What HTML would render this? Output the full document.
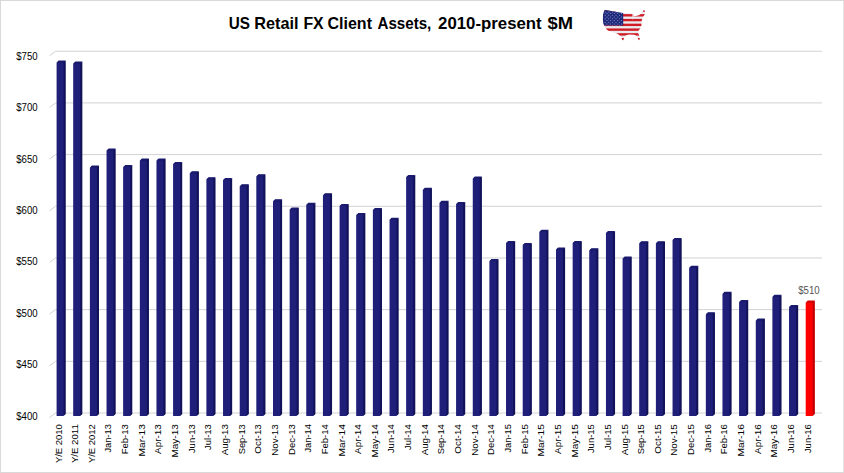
<!DOCTYPE html>
<html><head><meta charset="utf-8"><title>US Retail FX Client Assets</title>
<style>
html,body{margin:0;padding:0;background:#fff;}
body{width:844px;height:473px;overflow:hidden;}
svg{display:block;}
.g{fill:none;stroke:#d2d2d2;stroke-width:1;}
.yl{font-family:"Liberation Sans",Arial,sans-serif;font-size:11px;fill:#000;}
.xl{font-family:"Liberation Sans",Arial,sans-serif;font-size:9.4px;fill:#000;text-anchor:end;}
.tt{font-family:"Liberation Sans",Arial,sans-serif;font-size:16.3px;font-weight:bold;fill:#000;}
.dl{font-family:"Liberation Sans",Arial,sans-serif;font-size:10.8px;fill:#555;}
</style></head>
<body>
<svg width="844" height="473" viewBox="0 0 844 473">
<rect x="0" y="0" width="844" height="473" fill="#fff"/><path d="M0 0H844V1H0Z M0 0H1V473H0Z M0 472H844V473H0Z" fill="#d9d9d9"/><path d="M843 1H844V472H843Z" fill="#e6e6e6"/>
<text x="228.8" y="28.7" class="tt" textLength="21.2" lengthAdjust="spacingAndGlyphs">US</text><text x="254.3" y="28.7" class="tt" textLength="44.2" lengthAdjust="spacingAndGlyphs">Retail</text><text x="303.4" y="28.7" class="tt" textLength="20.3" lengthAdjust="spacingAndGlyphs">FX</text><text x="327.5" y="28.7" class="tt" textLength="44.5" lengthAdjust="spacingAndGlyphs">Client</text><text x="377.5" y="28.7" class="tt" textLength="53.8" lengthAdjust="spacingAndGlyphs">Assets,</text><text x="438.1" y="28.7" class="tt" textLength="103.6" lengthAdjust="spacingAndGlyphs">2010-present</text><text x="547.5" y="28.7" class="tt" textLength="25.5" lengthAdjust="spacingAndGlyphs">$M</text>

<defs><clipPath id="us"><path d="M605 10 L614 11.4 L623 12.9 L628 13.3 L632 13.4 L633 14.4 L633.6 16.4 L635 16.2 L637 15.8 L639 15.2 L641 13.8 L642.5 12 L643.3 10.6 L644.5 10.3 L645.1 11.8 L644.6 14.5 L643 17 L641.8 20 L641.5 23 L641.4 25.6 L640.5 28 L639.2 29.8 L638 31.5 L638.3 33.5 L639.3 35.8 L639.7 38.5 L639.2 40.4 L638.2 39.2 L637.2 36.8 L635.5 35.3 L634.2 34.8 L629.3 34.6 L626.5 35 L624.6 36.6 L623.8 38.5 L623.3 40.5 L622.3 40 L621.4 37.4 L619.5 35.3 L617.5 33.8 L616.5 33.3 L613.5 32.5 L610.8 31.7 L608.5 31 L606.5 29.2 L605.3 27.6 L604.3 25.6 L603.2 23 L602.9 19 L603 15.2 L603.6 12.5 L604.2 10.8 Z"/></clipPath></defs>
<g clip-path="url(#us)">
 <rect x="600" y="8" width="48" height="34" fill="#e9ebee"/>
 <g fill="#d11c25"><rect x="600" y="9.35" width="48" height="2.4"/><rect x="600" y="14.12" width="48" height="2.4"/><rect x="600" y="18.89" width="48" height="2.4"/><rect x="600" y="23.66" width="48" height="2.4"/><rect x="600" y="28.43" width="48" height="2.4"/><rect x="600" y="33.2" width="48" height="2.4"/><rect x="600" y="37.97" width="48" height="2.4"/></g>
 <path d="M600 8H623.2V25.6H600Z" fill="#1f2a7c"/>
 <g fill="#9ea6d2"><circle cx="605.2" cy="11.9" r="0.5"/><circle cx="608.8" cy="11.9" r="0.5"/><circle cx="612.4" cy="11.9" r="0.5"/><circle cx="616" cy="11.9" r="0.5"/><circle cx="619.6" cy="11.9" r="0.5"/><circle cx="607" cy="13.62" r="0.5"/><circle cx="610.6" cy="13.62" r="0.5"/><circle cx="614.2" cy="13.62" r="0.5"/><circle cx="617.8" cy="13.62" r="0.5"/><circle cx="621.4" cy="13.62" r="0.5"/><circle cx="605.2" cy="15.34" r="0.5"/><circle cx="608.8" cy="15.34" r="0.5"/><circle cx="612.4" cy="15.34" r="0.5"/><circle cx="616" cy="15.34" r="0.5"/><circle cx="619.6" cy="15.34" r="0.5"/><circle cx="607" cy="17.06" r="0.5"/><circle cx="610.6" cy="17.06" r="0.5"/><circle cx="614.2" cy="17.06" r="0.5"/><circle cx="617.8" cy="17.06" r="0.5"/><circle cx="621.4" cy="17.06" r="0.5"/><circle cx="605.2" cy="18.78" r="0.5"/><circle cx="608.8" cy="18.78" r="0.5"/><circle cx="612.4" cy="18.78" r="0.5"/><circle cx="616" cy="18.78" r="0.5"/><circle cx="619.6" cy="18.78" r="0.5"/><circle cx="607" cy="20.5" r="0.5"/><circle cx="610.6" cy="20.5" r="0.5"/><circle cx="614.2" cy="20.5" r="0.5"/><circle cx="617.8" cy="20.5" r="0.5"/><circle cx="621.4" cy="20.5" r="0.5"/><circle cx="605.2" cy="22.22" r="0.5"/><circle cx="608.8" cy="22.22" r="0.5"/><circle cx="612.4" cy="22.22" r="0.5"/><circle cx="616" cy="22.22" r="0.5"/><circle cx="619.6" cy="22.22" r="0.5"/><circle cx="607" cy="23.94" r="0.5"/><circle cx="610.6" cy="23.94" r="0.5"/><circle cx="614.2" cy="23.94" r="0.5"/><circle cx="617.8" cy="23.94" r="0.5"/><circle cx="621.4" cy="23.94" r="0.5"/><circle cx="605.2" cy="25.66" r="0.5"/><circle cx="608.8" cy="25.66" r="0.5"/><circle cx="612.4" cy="25.66" r="0.5"/><circle cx="616" cy="25.66" r="0.5"/><circle cx="619.6" cy="25.66" r="0.5"/></g>
 <path d="M632.2 14.2L632.9 20.6L633.5 14.4Z" fill="#eef0f2"/>
</g>

<path d="M49.5 417.5L55.5 413H822" class="g"/><path d="M49.5 365.82L55.5 361.32H822" class="g"/><path d="M49.5 314.14L55.5 309.64H822" class="g"/><path d="M49.5 262.46L55.5 257.96H822" class="g"/><path d="M49.5 210.78L55.5 206.28H822" class="g"/><path d="M49.5 159.1L55.5 154.6H822" class="g"/><path d="M49.5 107.42L55.5 102.92H822" class="g"/><path d="M49.5 55.74L55.5 51.24H822" class="g"/>
<text x="16.2" y="419.75" class="yl" textLength="21.4" lengthAdjust="spacingAndGlyphs">$400</text><text x="16.2" y="368.3" class="yl" textLength="21.4" lengthAdjust="spacingAndGlyphs">$450</text><text x="16.2" y="316.85" class="yl" textLength="21.4" lengthAdjust="spacingAndGlyphs">$500</text><text x="16.2" y="265.4" class="yl" textLength="21.4" lengthAdjust="spacingAndGlyphs">$550</text><text x="16.2" y="213.95" class="yl" textLength="21.4" lengthAdjust="spacingAndGlyphs">$600</text><text x="16.2" y="162.5" class="yl" textLength="21.4" lengthAdjust="spacingAndGlyphs">$650</text><text x="16.2" y="111.05" class="yl" textLength="21.4" lengthAdjust="spacingAndGlyphs">$700</text><text x="16.2" y="59.6" class="yl" textLength="21.4" lengthAdjust="spacingAndGlyphs">$750</text>
<path d="M57.1 62.6L58.7 61H65.2V413.9L63.6 415.5H57.1Z" fill="#12125a"/><path d="M63.6 62.6L65.7 60.5V413.9L63.6 416Z" fill="#12125a"/><path d="M56.6 62.6H63.6V416H56.6Z" fill="#1f1f7a"/><path d="M56.6 62.6L58.7 60.5H65.7L63.6 62.6Z" fill="#1a1a6e"/><path d="M73.75 63.6L75.35 62H81.85V413.9L80.25 415.5H73.75Z" fill="#12125a"/><path d="M80.25 63.6L82.35 61.5V413.9L80.25 416Z" fill="#12125a"/><path d="M73.25 63.6H80.25V416H73.25Z" fill="#1f1f7a"/><path d="M73.25 63.6L75.35 61.5H82.35L80.25 63.6Z" fill="#1a1a6e"/><path d="M90.39 167.6L91.99 166H98.49V413.9L96.89 415.5H90.39Z" fill="#12125a"/><path d="M96.89 167.6L98.99 165.5V413.9L96.89 416Z" fill="#12125a"/><path d="M89.89 167.6H96.89V416H89.89Z" fill="#1f1f7a"/><path d="M89.89 167.6L91.99 165.5H98.99L96.89 167.6Z" fill="#1a1a6e"/><path d="M107.04 150.6L108.64 149H115.14V413.9L113.54 415.5H107.04Z" fill="#12125a"/><path d="M113.54 150.6L115.64 148.5V413.9L113.54 416Z" fill="#12125a"/><path d="M106.54 150.6H113.54V416H106.54Z" fill="#1f1f7a"/><path d="M106.54 150.6L108.64 148.5H115.64L113.54 150.6Z" fill="#1a1a6e"/><path d="M123.69 167.1L125.29 165.5H131.79V413.9L130.19 415.5H123.69Z" fill="#12125a"/><path d="M130.19 167.1L132.29 165V413.9L130.19 416Z" fill="#12125a"/><path d="M123.19 167.1H130.19V416H123.19Z" fill="#1f1f7a"/><path d="M123.19 167.1L125.29 165H132.29L130.19 167.1Z" fill="#1a1a6e"/><path d="M140.33 160.6L141.93 159H148.43V413.9L146.83 415.5H140.33Z" fill="#12125a"/><path d="M146.83 160.6L148.93 158.5V413.9L146.83 416Z" fill="#12125a"/><path d="M139.83 160.6H146.83V416H139.83Z" fill="#1f1f7a"/><path d="M139.83 160.6L141.93 158.5H148.93L146.83 160.6Z" fill="#1a1a6e"/><path d="M156.98 160.6L158.58 159H165.08V413.9L163.48 415.5H156.98Z" fill="#12125a"/><path d="M163.48 160.6L165.58 158.5V413.9L163.48 416Z" fill="#12125a"/><path d="M156.48 160.6H163.48V416H156.48Z" fill="#1f1f7a"/><path d="M156.48 160.6L158.58 158.5H165.58L163.48 160.6Z" fill="#1a1a6e"/><path d="M173.63 164.1L175.23 162.5H181.73V413.9L180.13 415.5H173.63Z" fill="#12125a"/><path d="M180.13 164.1L182.23 162V413.9L180.13 416Z" fill="#12125a"/><path d="M173.13 164.1H180.13V416H173.13Z" fill="#1f1f7a"/><path d="M173.13 164.1L175.23 162H182.23L180.13 164.1Z" fill="#1a1a6e"/><path d="M190.28 173.35L191.88 171.75H198.38V413.9L196.78 415.5H190.28Z" fill="#12125a"/><path d="M196.78 173.35L198.88 171.25V413.9L196.78 416Z" fill="#12125a"/><path d="M189.78 173.35H196.78V416H189.78Z" fill="#1f1f7a"/><path d="M189.78 173.35L191.88 171.25H198.88L196.78 173.35Z" fill="#1a1a6e"/><path d="M206.92 179.35L208.52 177.75H215.02V413.9L213.42 415.5H206.92Z" fill="#12125a"/><path d="M213.42 179.35L215.52 177.25V413.9L213.42 416Z" fill="#12125a"/><path d="M206.42 179.35H213.42V416H206.42Z" fill="#1f1f7a"/><path d="M206.42 179.35L208.52 177.25H215.52L213.42 179.35Z" fill="#1a1a6e"/><path d="M223.57 180.1L225.17 178.5H231.67V413.9L230.07 415.5H223.57Z" fill="#12125a"/><path d="M230.07 180.1L232.17 178V413.9L230.07 416Z" fill="#12125a"/><path d="M223.07 180.1H230.07V416H223.07Z" fill="#1f1f7a"/><path d="M223.07 180.1L225.17 178H232.17L230.07 180.1Z" fill="#1a1a6e"/><path d="M240.22 186.35L241.82 184.75H248.32V413.9L246.72 415.5H240.22Z" fill="#12125a"/><path d="M246.72 186.35L248.82 184.25V413.9L246.72 416Z" fill="#12125a"/><path d="M239.72 186.35H246.72V416H239.72Z" fill="#1f1f7a"/><path d="M239.72 186.35L241.82 184.25H248.82L246.72 186.35Z" fill="#1a1a6e"/><path d="M256.86 176.35L258.46 174.75H264.96V413.9L263.36 415.5H256.86Z" fill="#12125a"/><path d="M263.36 176.35L265.46 174.25V413.9L263.36 416Z" fill="#12125a"/><path d="M256.36 176.35H263.36V416H256.36Z" fill="#1f1f7a"/><path d="M256.36 176.35L258.46 174.25H265.46L263.36 176.35Z" fill="#1a1a6e"/><path d="M273.51 201.35L275.11 199.75H281.61V413.9L280.01 415.5H273.51Z" fill="#12125a"/><path d="M280.01 201.35L282.11 199.25V413.9L280.01 416Z" fill="#12125a"/><path d="M273.01 201.35H280.01V416H273.01Z" fill="#1f1f7a"/><path d="M273.01 201.35L275.11 199.25H282.11L280.01 201.35Z" fill="#1a1a6e"/><path d="M290.16 209.6L291.76 208H298.26V413.9L296.66 415.5H290.16Z" fill="#12125a"/><path d="M296.66 209.6L298.76 207.5V413.9L296.66 416Z" fill="#12125a"/><path d="M289.66 209.6H296.66V416H289.66Z" fill="#1f1f7a"/><path d="M289.66 209.6L291.76 207.5H298.76L296.66 209.6Z" fill="#1a1a6e"/><path d="M306.81 204.85L308.41 203.25H314.91V413.9L313.31 415.5H306.81Z" fill="#12125a"/><path d="M313.31 204.85L315.41 202.75V413.9L313.31 416Z" fill="#12125a"/><path d="M306.31 204.85H313.31V416H306.31Z" fill="#1f1f7a"/><path d="M306.31 204.85L308.41 202.75H315.41L313.31 204.85Z" fill="#1a1a6e"/><path d="M323.45 195.35L325.05 193.75H331.55V413.9L329.95 415.5H323.45Z" fill="#12125a"/><path d="M329.95 195.35L332.05 193.25V413.9L329.95 416Z" fill="#12125a"/><path d="M322.95 195.35H329.95V416H322.95Z" fill="#1f1f7a"/><path d="M322.95 195.35L325.05 193.25H332.05L329.95 195.35Z" fill="#1a1a6e"/><path d="M340.1 206.1L341.7 204.5H348.2V413.9L346.6 415.5H340.1Z" fill="#12125a"/><path d="M346.6 206.1L348.7 204V413.9L346.6 416Z" fill="#12125a"/><path d="M339.6 206.1H346.6V416H339.6Z" fill="#1f1f7a"/><path d="M339.6 206.1L341.7 204H348.7L346.6 206.1Z" fill="#1a1a6e"/><path d="M356.75 215.1L358.35 213.5H364.85V413.9L363.25 415.5H356.75Z" fill="#12125a"/><path d="M363.25 215.1L365.35 213V413.9L363.25 416Z" fill="#12125a"/><path d="M356.25 215.1H363.25V416H356.25Z" fill="#1f1f7a"/><path d="M356.25 215.1L358.35 213H365.35L363.25 215.1Z" fill="#1a1a6e"/><path d="M373.39 210.1L374.99 208.5H381.49V413.9L379.89 415.5H373.39Z" fill="#12125a"/><path d="M379.89 210.1L381.99 208V413.9L379.89 416Z" fill="#12125a"/><path d="M372.89 210.1H379.89V416H372.89Z" fill="#1f1f7a"/><path d="M372.89 210.1L374.99 208H381.99L379.89 210.1Z" fill="#1a1a6e"/><path d="M390.04 219.85L391.64 218.25H398.14V413.9L396.54 415.5H390.04Z" fill="#12125a"/><path d="M396.54 219.85L398.64 217.75V413.9L396.54 416Z" fill="#12125a"/><path d="M389.54 219.85H396.54V416H389.54Z" fill="#1f1f7a"/><path d="M389.54 219.85L391.64 217.75H398.64L396.54 219.85Z" fill="#1a1a6e"/><path d="M406.69 177.1L408.29 175.5H414.79V413.9L413.19 415.5H406.69Z" fill="#12125a"/><path d="M413.19 177.1L415.29 175V413.9L413.19 416Z" fill="#12125a"/><path d="M406.19 177.1H413.19V416H406.19Z" fill="#1f1f7a"/><path d="M406.19 177.1L408.29 175H415.29L413.19 177.1Z" fill="#1a1a6e"/><path d="M423.33 189.85L424.93 188.25H431.43V413.9L429.83 415.5H423.33Z" fill="#12125a"/><path d="M429.83 189.85L431.93 187.75V413.9L429.83 416Z" fill="#12125a"/><path d="M422.83 189.85H429.83V416H422.83Z" fill="#1f1f7a"/><path d="M422.83 189.85L424.93 187.75H431.93L429.83 189.85Z" fill="#1a1a6e"/><path d="M439.98 202.85L441.58 201.25H448.08V413.9L446.48 415.5H439.98Z" fill="#12125a"/><path d="M446.48 202.85L448.58 200.75V413.9L446.48 416Z" fill="#12125a"/><path d="M439.48 202.85H446.48V416H439.48Z" fill="#1f1f7a"/><path d="M439.48 202.85L441.58 200.75H448.58L446.48 202.85Z" fill="#1a1a6e"/><path d="M456.63 204.1L458.23 202.5H464.73V413.9L463.13 415.5H456.63Z" fill="#12125a"/><path d="M463.13 204.1L465.23 202V413.9L463.13 416Z" fill="#12125a"/><path d="M456.13 204.1H463.13V416H456.13Z" fill="#1f1f7a"/><path d="M456.13 204.1L458.23 202H465.23L463.13 204.1Z" fill="#1a1a6e"/><path d="M473.27 178.6L474.88 177H481.38V413.9L479.77 415.5H473.27Z" fill="#12125a"/><path d="M479.77 178.6L481.88 176.5V413.9L479.77 416Z" fill="#12125a"/><path d="M472.77 178.6H479.77V416H472.77Z" fill="#1f1f7a"/><path d="M472.77 178.6L474.88 176.5H481.88L479.77 178.6Z" fill="#1a1a6e"/><path d="M489.92 261.1L491.52 259.5H498.02V413.9L496.42 415.5H489.92Z" fill="#12125a"/><path d="M496.42 261.1L498.52 259V413.9L496.42 416Z" fill="#12125a"/><path d="M489.42 261.1H496.42V416H489.42Z" fill="#1f1f7a"/><path d="M489.42 261.1L491.52 259H498.52L496.42 261.1Z" fill="#1a1a6e"/><path d="M506.57 243.1L508.17 241.5H514.67V413.9L513.07 415.5H506.57Z" fill="#12125a"/><path d="M513.07 243.1L515.17 241V413.9L513.07 416Z" fill="#12125a"/><path d="M506.07 243.1H513.07V416H506.07Z" fill="#1f1f7a"/><path d="M506.07 243.1L508.17 241H515.17L513.07 243.1Z" fill="#1a1a6e"/><path d="M523.22 245.1L524.82 243.5H531.32V413.9L529.72 415.5H523.22Z" fill="#12125a"/><path d="M529.72 245.1L531.82 243V413.9L529.72 416Z" fill="#12125a"/><path d="M522.72 245.1H529.72V416H522.72Z" fill="#1f1f7a"/><path d="M522.72 245.1L524.82 243H531.82L529.72 245.1Z" fill="#1a1a6e"/><path d="M539.86 231.85L541.46 230.25H547.96V413.9L546.36 415.5H539.86Z" fill="#12125a"/><path d="M546.36 231.85L548.46 229.75V413.9L546.36 416Z" fill="#12125a"/><path d="M539.36 231.85H546.36V416H539.36Z" fill="#1f1f7a"/><path d="M539.36 231.85L541.46 229.75H548.46L546.36 231.85Z" fill="#1a1a6e"/><path d="M556.51 249.6L558.11 248H564.61V413.9L563.01 415.5H556.51Z" fill="#12125a"/><path d="M563.01 249.6L565.11 247.5V413.9L563.01 416Z" fill="#12125a"/><path d="M556.01 249.6H563.01V416H556.01Z" fill="#1f1f7a"/><path d="M556.01 249.6L558.11 247.5H565.11L563.01 249.6Z" fill="#1a1a6e"/><path d="M573.16 243.1L574.76 241.5H581.26V413.9L579.66 415.5H573.16Z" fill="#12125a"/><path d="M579.66 243.1L581.76 241V413.9L579.66 416Z" fill="#12125a"/><path d="M572.66 243.1H579.66V416H572.66Z" fill="#1f1f7a"/><path d="M572.66 243.1L574.76 241H581.76L579.66 243.1Z" fill="#1a1a6e"/><path d="M589.8 250.35L591.4 248.75H597.9V413.9L596.3 415.5H589.8Z" fill="#12125a"/><path d="M596.3 250.35L598.4 248.25V413.9L596.3 416Z" fill="#12125a"/><path d="M589.3 250.35H596.3V416H589.3Z" fill="#1f1f7a"/><path d="M589.3 250.35L591.4 248.25H598.4L596.3 250.35Z" fill="#1a1a6e"/><path d="M606.45 233.1L608.05 231.5H614.55V413.9L612.95 415.5H606.45Z" fill="#12125a"/><path d="M612.95 233.1L615.05 231V413.9L612.95 416Z" fill="#12125a"/><path d="M605.95 233.1H612.95V416H605.95Z" fill="#1f1f7a"/><path d="M605.95 233.1L608.05 231H615.05L612.95 233.1Z" fill="#1a1a6e"/><path d="M623.1 258.6L624.7 257H631.2V413.9L629.6 415.5H623.1Z" fill="#12125a"/><path d="M629.6 258.6L631.7 256.5V413.9L629.6 416Z" fill="#12125a"/><path d="M622.6 258.6H629.6V416H622.6Z" fill="#1f1f7a"/><path d="M622.6 258.6L624.7 256.5H631.7L629.6 258.6Z" fill="#1a1a6e"/><path d="M639.75 243.35L641.35 241.75H647.85V413.9L646.25 415.5H639.75Z" fill="#12125a"/><path d="M646.25 243.35L648.35 241.25V413.9L646.25 416Z" fill="#12125a"/><path d="M639.25 243.35H646.25V416H639.25Z" fill="#1f1f7a"/><path d="M639.25 243.35L641.35 241.25H648.35L646.25 243.35Z" fill="#1a1a6e"/><path d="M656.39 243.35L657.99 241.75H664.49V413.9L662.89 415.5H656.39Z" fill="#12125a"/><path d="M662.89 243.35L664.99 241.25V413.9L662.89 416Z" fill="#12125a"/><path d="M655.89 243.35H662.89V416H655.89Z" fill="#1f1f7a"/><path d="M655.89 243.35L657.99 241.25H664.99L662.89 243.35Z" fill="#1a1a6e"/><path d="M673.04 240.1L674.64 238.5H681.14V413.9L679.54 415.5H673.04Z" fill="#12125a"/><path d="M679.54 240.1L681.64 238V413.9L679.54 416Z" fill="#12125a"/><path d="M672.54 240.1H679.54V416H672.54Z" fill="#1f1f7a"/><path d="M672.54 240.1L674.64 238H681.64L679.54 240.1Z" fill="#1a1a6e"/><path d="M689.69 267.85L691.29 266.25H697.79V413.9L696.19 415.5H689.69Z" fill="#12125a"/><path d="M696.19 267.85L698.29 265.75V413.9L696.19 416Z" fill="#12125a"/><path d="M689.19 267.85H696.19V416H689.19Z" fill="#1f1f7a"/><path d="M689.19 267.85L691.29 265.75H698.29L696.19 267.85Z" fill="#1a1a6e"/><path d="M706.33 314.35L707.93 312.75H714.43V413.9L712.83 415.5H706.33Z" fill="#12125a"/><path d="M712.83 314.35L714.93 312.25V413.9L712.83 416Z" fill="#12125a"/><path d="M705.83 314.35H712.83V416H705.83Z" fill="#1f1f7a"/><path d="M705.83 314.35L707.93 312.25H714.93L712.83 314.35Z" fill="#1a1a6e"/><path d="M722.98 293.85L724.58 292.25H731.08V413.9L729.48 415.5H722.98Z" fill="#12125a"/><path d="M729.48 293.85L731.58 291.75V413.9L729.48 416Z" fill="#12125a"/><path d="M722.48 293.85H729.48V416H722.48Z" fill="#1f1f7a"/><path d="M722.48 293.85L724.58 291.75H731.58L729.48 293.85Z" fill="#1a1a6e"/><path d="M739.63 302.1L741.23 300.5H747.73V413.9L746.13 415.5H739.63Z" fill="#12125a"/><path d="M746.13 302.1L748.23 300V413.9L746.13 416Z" fill="#12125a"/><path d="M739.13 302.1H746.13V416H739.13Z" fill="#1f1f7a"/><path d="M739.13 302.1L741.23 300H748.23L746.13 302.1Z" fill="#1a1a6e"/><path d="M756.27 320.6L757.87 319H764.37V413.9L762.77 415.5H756.27Z" fill="#12125a"/><path d="M762.77 320.6L764.87 318.5V413.9L762.77 416Z" fill="#12125a"/><path d="M755.77 320.6H762.77V416H755.77Z" fill="#1f1f7a"/><path d="M755.77 320.6L757.87 318.5H764.87L762.77 320.6Z" fill="#1a1a6e"/><path d="M772.92 296.85L774.52 295.25H781.02V413.9L779.42 415.5H772.92Z" fill="#12125a"/><path d="M779.42 296.85L781.52 294.75V413.9L779.42 416Z" fill="#12125a"/><path d="M772.42 296.85H779.42V416H772.42Z" fill="#1f1f7a"/><path d="M772.42 296.85L774.52 294.75H781.52L779.42 296.85Z" fill="#1a1a6e"/><path d="M789.57 307.1L791.17 305.5H797.67V413.9L796.07 415.5H789.57Z" fill="#12125a"/><path d="M796.07 307.1L798.17 305V413.9L796.07 416Z" fill="#12125a"/><path d="M789.07 307.1H796.07V416H789.07Z" fill="#1f1f7a"/><path d="M789.07 307.1L791.17 305H798.17L796.07 307.1Z" fill="#1a1a6e"/><path d="M806.21 302.6L807.81 301H814.31V413.9L812.71 415.5H806.21Z" fill="#c00000"/><path d="M812.71 302.6L814.81 300.5V413.9L812.71 416Z" fill="#c00000"/><path d="M805.71 302.6H812.71V416H805.71Z" fill="#ff0000"/><path d="M805.71 302.6L807.81 300.5H814.81L812.71 302.6Z" fill="#d80000"/>
<text transform="translate(61.5 424.2) rotate(-90)" class="xl" textLength="38.87" lengthAdjust="spacingAndGlyphs">Y/E 2010</text><text transform="translate(78.15 424.2) rotate(-90)" class="xl" textLength="38.87" lengthAdjust="spacingAndGlyphs">Y/E 2011</text><text transform="translate(94.79 424.2) rotate(-90)" class="xl" textLength="38.87" lengthAdjust="spacingAndGlyphs">Y/E 2012</text><text transform="translate(111.44 424.2) rotate(-90)" class="xl" textLength="28.41" lengthAdjust="spacingAndGlyphs">Jan-13</text><text transform="translate(128.09 424.2) rotate(-90)" class="xl" textLength="30.12" lengthAdjust="spacingAndGlyphs">Feb-13</text><text transform="translate(144.73 424.2) rotate(-90)" class="xl" textLength="32.28" lengthAdjust="spacingAndGlyphs">Mar-13</text><text transform="translate(161.38 424.2) rotate(-90)" class="xl" textLength="29.81" lengthAdjust="spacingAndGlyphs">Apr-13</text><text transform="translate(178.03 424.2) rotate(-90)" class="xl" textLength="33.4" lengthAdjust="spacingAndGlyphs">May-13</text><text transform="translate(194.68 424.2) rotate(-90)" class="xl" textLength="28.91" lengthAdjust="spacingAndGlyphs">Jun-13</text><text transform="translate(211.32 424.2) rotate(-90)" class="xl" textLength="25.72" lengthAdjust="spacingAndGlyphs">Jul-13</text><text transform="translate(227.97 424.2) rotate(-90)" class="xl" textLength="31.12" lengthAdjust="spacingAndGlyphs">Aug-13</text><text transform="translate(244.62 424.2) rotate(-90)" class="xl" textLength="30.12" lengthAdjust="spacingAndGlyphs">Sep-13</text><text transform="translate(261.26 424.2) rotate(-90)" class="xl" textLength="29.46" lengthAdjust="spacingAndGlyphs">Oct-13</text><text transform="translate(277.91 424.2) rotate(-90)" class="xl" textLength="31.66" lengthAdjust="spacingAndGlyphs">Nov-13</text><text transform="translate(294.56 424.2) rotate(-90)" class="xl" textLength="30.7" lengthAdjust="spacingAndGlyphs">Dec-13</text><text transform="translate(311.2 424.2) rotate(-90)" class="xl" textLength="28.41" lengthAdjust="spacingAndGlyphs">Jan-14</text><text transform="translate(327.85 424.2) rotate(-90)" class="xl" textLength="30.12" lengthAdjust="spacingAndGlyphs">Feb-14</text><text transform="translate(344.5 424.2) rotate(-90)" class="xl" textLength="32.28" lengthAdjust="spacingAndGlyphs">Mar-14</text><text transform="translate(361.15 424.2) rotate(-90)" class="xl" textLength="29.81" lengthAdjust="spacingAndGlyphs">Apr-14</text><text transform="translate(377.79 424.2) rotate(-90)" class="xl" textLength="33.4" lengthAdjust="spacingAndGlyphs">May-14</text><text transform="translate(394.44 424.2) rotate(-90)" class="xl" textLength="28.91" lengthAdjust="spacingAndGlyphs">Jun-14</text><text transform="translate(411.09 424.2) rotate(-90)" class="xl" textLength="25.72" lengthAdjust="spacingAndGlyphs">Jul-14</text><text transform="translate(427.73 424.2) rotate(-90)" class="xl" textLength="31.12" lengthAdjust="spacingAndGlyphs">Aug-14</text><text transform="translate(444.38 424.2) rotate(-90)" class="xl" textLength="30.12" lengthAdjust="spacingAndGlyphs">Sep-14</text><text transform="translate(461.03 424.2) rotate(-90)" class="xl" textLength="29.46" lengthAdjust="spacingAndGlyphs">Oct-14</text><text transform="translate(477.67 424.2) rotate(-90)" class="xl" textLength="31.66" lengthAdjust="spacingAndGlyphs">Nov-14</text><text transform="translate(494.32 424.2) rotate(-90)" class="xl" textLength="30.7" lengthAdjust="spacingAndGlyphs">Dec-14</text><text transform="translate(510.97 424.2) rotate(-90)" class="xl" textLength="28.41" lengthAdjust="spacingAndGlyphs">Jan-15</text><text transform="translate(527.62 424.2) rotate(-90)" class="xl" textLength="30.12" lengthAdjust="spacingAndGlyphs">Feb-15</text><text transform="translate(544.26 424.2) rotate(-90)" class="xl" textLength="32.28" lengthAdjust="spacingAndGlyphs">Mar-15</text><text transform="translate(560.91 424.2) rotate(-90)" class="xl" textLength="29.81" lengthAdjust="spacingAndGlyphs">Apr-15</text><text transform="translate(577.56 424.2) rotate(-90)" class="xl" textLength="33.4" lengthAdjust="spacingAndGlyphs">May-15</text><text transform="translate(594.2 424.2) rotate(-90)" class="xl" textLength="28.91" lengthAdjust="spacingAndGlyphs">Jun-15</text><text transform="translate(610.85 424.2) rotate(-90)" class="xl" textLength="25.72" lengthAdjust="spacingAndGlyphs">Jul-15</text><text transform="translate(627.5 424.2) rotate(-90)" class="xl" textLength="31.12" lengthAdjust="spacingAndGlyphs">Aug-15</text><text transform="translate(644.14 424.2) rotate(-90)" class="xl" textLength="30.12" lengthAdjust="spacingAndGlyphs">Sep-15</text><text transform="translate(660.79 424.2) rotate(-90)" class="xl" textLength="29.46" lengthAdjust="spacingAndGlyphs">Oct-15</text><text transform="translate(677.44 424.2) rotate(-90)" class="xl" textLength="31.66" lengthAdjust="spacingAndGlyphs">Nov-15</text><text transform="translate(694.09 424.2) rotate(-90)" class="xl" textLength="30.7" lengthAdjust="spacingAndGlyphs">Dec-15</text><text transform="translate(710.73 424.2) rotate(-90)" class="xl" textLength="28.41" lengthAdjust="spacingAndGlyphs">Jan-16</text><text transform="translate(727.38 424.2) rotate(-90)" class="xl" textLength="30.12" lengthAdjust="spacingAndGlyphs">Feb-16</text><text transform="translate(744.03 424.2) rotate(-90)" class="xl" textLength="32.28" lengthAdjust="spacingAndGlyphs">Mar-16</text><text transform="translate(760.67 424.2) rotate(-90)" class="xl" textLength="29.81" lengthAdjust="spacingAndGlyphs">Apr-16</text><text transform="translate(777.32 424.2) rotate(-90)" class="xl" textLength="33.4" lengthAdjust="spacingAndGlyphs">May-16</text><text transform="translate(793.97 424.2) rotate(-90)" class="xl" textLength="28.91" lengthAdjust="spacingAndGlyphs">Jun-16</text><text transform="translate(810.61 424.2) rotate(-90)" class="xl" textLength="28.91" lengthAdjust="spacingAndGlyphs">Jun-16</text>
<text x="798.2" y="293.7" class="dl" textLength="21.5" lengthAdjust="spacingAndGlyphs">$510</text>
</svg>
</body></html>
